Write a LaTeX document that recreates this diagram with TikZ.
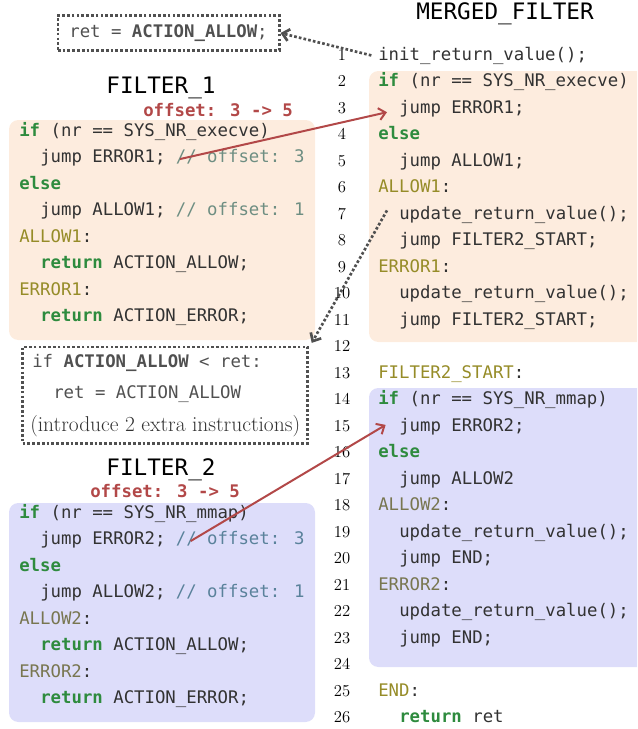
\documentclass[tikz,border=0pt]{standalone}
\usepackage{fontspec}
\usepackage{xcolor}
\usepackage{tikz}
\usetikzlibrary{arrows.meta}
\usetikzlibrary{positioning}
\usetikzlibrary{fit}
\newfontfamily\codefont{DejaVu Sans Mono}
\definecolor{codegray}{RGB}{50,50,50}
\definecolor{kwgreen}{RGB}{46,139,62}
\definecolor{lblolive}{RGB}{150,140,40}
\definecolor{lblgray}{RGB}{120,118,80}
\definecolor{cmtteal}{RGB}{110,142,130}
\definecolor{cmtblue}{RGB}{90,130,155}
\definecolor{offred}{RGB}{178,72,72}
\definecolor{peach}{RGB}{253,236,222}
\definecolor{lavender}{RGB}{221,221,250}
\definecolor{dotgray}{RGB}{80,80,80}
\newcommand{\kw}[1]{\textcolor{kwgreen}{\bfseries #1}}
\newcommand{\lbl}[2][lblolive]{\textcolor{#1}{#2}}
\newcommand{\cmt}[2][cmtteal]{\textcolor{#1}{#2}}
\tikzset{
% standard arrow tip
>={Straight Barb[length=5pt, width=9pt]},
code/.style={font=\codefont\fontsize{13}{15}\selectfont, text=codegray, anchor=base west, inner sep=0},
title/.style={font=\codefont\fontsize{17}{20}\selectfont, text=black, inner sep=0},
offset/.style={font=\codefont\bfseries\fontsize{13}{15}\selectfont, text=offred, anchor=base west, inner sep=0},
lineno/.style={font=\fontsize{12.5}{14}\selectfont, anchor=base, inner sep=0},
dotbox/.style={draw=dotgray, line width=2pt, dash pattern=on 2pt off 1.6pt},
redarrow/.style={draw=offred, line width=1.5pt, ->},
}
\begin{document}
\begin{tikzpicture}[x=0.75pt, y=-0.75pt]
  \clip (0,0) rectangle (637,729);

  % code blocks
  \fill[peach, rounded corners=7pt] (9,120) rectangle (315,340);
  \fill[lavender, rounded corners=7pt] (9,503) rectangle (315,722);
  \fill[peach, rounded corners=7pt] (369,71) rectangle (660,342);
  \fill[lavender, rounded corners=7pt] (369,388) rectangle (660,667);

  \node[title] (merged) at (505,14) {MERGED\_FILTER};
  \node[title] (filter1) at (161,88) {FILTER\_1};
  \node[title] (filter2) at (161,470) {FILTER\_2};
  \node[offset] (off1) at (143,116) {offset: 3 -> 5};
  \node[offset] (off2) at (90,497) {offset: 3 -> 5};

  \node[code, anchor=center, dotbox, text=dotgray,
    minimum width=166pt, minimum height=26pt] (retbox) at (168.5,33) {ret = \textbf{ACTION\_ALLOW};};

  \foreach \i/\dx/\txt in {
    1/0/{\kw{if} (nr == SYS\_NR\_execve)},
    2/21/{jump ERROR1; \cmt{// offset: 3}},
    3/0/{\kw{else}},
    4/21/{jump ALLOW1; \cmt{// offset: 1}},
    5/0/{\lbl{ALLOW1}:},
    6/21/{\kw{return} ACTION\_ALLOW;},
    7/0/{\lbl{ERROR1}:},
    8/21/{\kw{return} ACTION\_ERROR;}}
    \node[code] (fa\i) at ({19+\dx},{136+(\i-1)*26.5}) {\txt};

  \foreach \i/\dx/\txt in {
    1/0/{\kw{if} (nr == SYS\_NR\_mmap)},
    2/21/{jump ERROR2; \cmt[cmtblue]{// offset: 3}},
    3/0/{\kw{else}},
    4/21/{jump ALLOW2; \cmt[cmtblue]{// offset: 1}},
    5/0/{\lbl[lblgray]{ALLOW2}:},
    6/21/{\kw{return} ACTION\_ALLOW;},
    7/0/{\lbl[lblgray]{ERROR2}:},
    8/21/{\kw{return} ACTION\_ERROR;}}
    \node[code] (fb\i) at ({19+\dx},{518+(\i-1)*26.5}) {\txt};

  % extra check between the filters
  \node[code, text=dotgray] (mid1) at (32,367) {if \textbf{ACTION\_ALLOW} < ret:};
  \node[code, text=dotgray] (mid2) at (53,398) {ret = ACTION\_ALLOW};
  \node[anchor=base west, inner sep=0, text=codegray, font=\fontsize{16.1}{18}\selectfont] (mid3) at (30,431) {(introduce 2 extra instructions)};
  \node[dotbox, inner xsep=5.5pt, inner ysep=5pt, fit=(mid1) (mid2) (mid3)] (midbox) {};

  % merged filter
  \foreach \i in {1,...,26}
    \node[lineno] (num\i) at ({342},{60+(\i-1)*26.5}) {\i};
  \foreach \i/\dx/\txt in {
    1/0/{init\_return\_value();},
    2/0/{\kw{if} (nr == SYS\_NR\_execve)},
    3/21/{jump ERROR1;},
    4/0/{\kw{else}},
    5/21/{jump ALLOW1;},
    6/0/{\lbl{ALLOW1}:},
    7/21/{update\_return\_value();},
    8/21/{jump FILTER2\_START;},
    9/0/{\lbl{ERROR1}:},
    10/21/{update\_return\_value();},
    11/21/{jump FILTER2\_START;},
    13/0/{\lbl{FILTER2\_START}:},
    14/0/{\kw{if} (nr == SYS\_NR\_mmap)},
    15/21/{jump ERROR2;},
    16/0/{\kw{else}},
    17/21/{jump ALLOW2},
    18/0/{\lbl[lblgray]{ALLOW2}:},
    19/21/{update\_return\_value();},
    20/21/{jump END;},
    21/0/{\lbl[lblgray]{ERROR2}:},
    22/21/{update\_return\_value();},
    23/21/{jump END;},
    25/0/{\lbl{END}:},
    26/21/{\kw{return} ret}}
    \node[code] (line\i) at ({378+\dx},{60+(\i-1)*26.5}) {\txt};

  \draw[redarrow] ([xshift=105pt, yshift=-1pt]fa2.west) -- ([xshift=-9pt, yshift=-3pt]line3.west);
  \draw[redarrow] ([xshift=113pt, yshift=-1pt]fb2.west) -- ([xshift=-10pt, yshift=1pt]line15.west);
  \draw[dotbox, ->] ([xshift=-5pt]line1.west) -- (retbox.east);
  \draw[dotbox, ->] ([xshift=-9pt, yshift=3pt]line7.west) -- ([xshift=2pt, yshift=2pt]midbox.north east);
\end{tikzpicture}
\end{document}
